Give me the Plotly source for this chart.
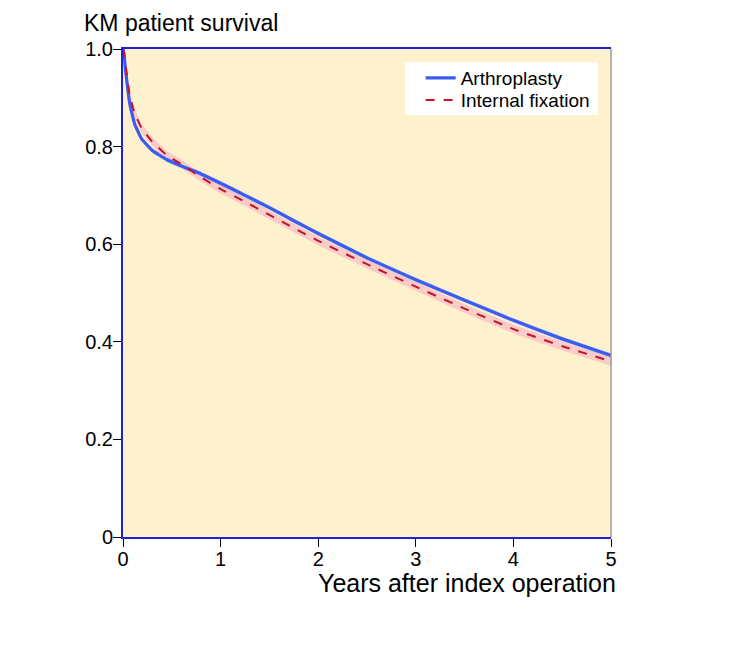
import plotly.graph_objects as go

years = [0, 0.01, 0.03, 0.07, 0.12, 0.19, 0.3, 0.45, 0.6, 0.8, 1.0, 1.25,
         1.5, 1.75, 2.0, 2.5, 3.0, 3.5, 4.0, 4.5, 5.0]
arthroplasty = [1.0, 0.99, 0.95, 0.887, 0.846, 0.816, 0.792, 0.773, 0.76, 0.744,
                0.725, 0.70, 0.675, 0.648, 0.622, 0.572, 0.527, 0.485, 0.444,
                0.406, 0.372]
internal_fixation = [1.0, 0.993, 0.962, 0.903, 0.868, 0.838, 0.81, 0.782, 0.764,
                     0.737, 0.713, 0.687, 0.66, 0.633, 0.607, 0.559, 0.513, 0.468,
                     0.426, 0.391, 0.36]
arth_ci = 0.005
fix_ci = 0.009

x_ticks = [0, 1, 2, 3, 4, 5]
y_ticks = [0, 0.2, 0.4, 0.6, 0.8, 1.0]
y_tick_labels = ["0", "0.2", "0.4", "0.6", "0.8", "1.0"]

FONT = "Liberation Sans, Arial, Helvetica, sans-serif"
AX_BLUE = "#1f1fd6"

fig = go.Figure()


def band(xs, ys, hw, color):
    up = [min(1.0, v + hw) for v in ys]
    lo = [v - hw for v in ys]
    fig.add_trace(go.Scatter(x=xs + xs[::-1], y=up + lo[::-1], fill="toself",
                             fillcolor=color, line=dict(width=0),
                             mode="lines", showlegend=False, hoverinfo="skip"))


band(years, internal_fixation, fix_ci, "rgba(245,150,190,0.4)")
band(years, arthroplasty, arth_ci, "rgba(120,150,255,0.3)")

fig.add_trace(go.Scatter(x=years, y=arthroplasty, mode="lines", name="Arthroplasty",
                         legend="legend",
                         line=dict(color="#3a5cf0", width=3.2, shape="spline", smoothing=0.3)))
fig.add_trace(go.Scatter(x=years, y=internal_fixation, mode="lines", name="Internal fixation",
                         legend="legend2",
                         line=dict(color="#c4122f", width=2, dash="dash", shape="spline", smoothing=0.3)))

legend_common = dict(xanchor="left", yanchor="top", bgcolor="rgba(0,0,0,0)",
                     borderwidth=0, font=dict(size=19), itemwidth=30)

fig.update_layout(
    width=729, height=652,
    margin=dict(l=115, r=126, t=41, b=123),
    paper_bgcolor="white",
    plot_bgcolor="#fef1cd",
    font=dict(family=FONT, color="black", size=18),
    showlegend=True,
    legend=dict(x=0.61, y=0.9795, **legend_common),
    legend2=dict(x=0.61, y=0.934, **legend_common),
    xaxis=dict(range=[0, 5], tickvals=x_ticks, showgrid=False, zeroline=False,
               showline=True, linecolor=AX_BLUE, linewidth=2, mirror=True,
               ticks="outside", ticklen=8, tickcolor="black", tickwidth=1,
               tickfont=dict(size=20), ticklabelstandoff=-5),
    yaxis=dict(range=[0, 1.0], tickvals=y_ticks, ticktext=y_tick_labels,
               showgrid=False, zeroline=False, showline=True, linecolor=AX_BLUE,
               linewidth=2, ticks="outside", ticklen=8, tickcolor="black",
               tickwidth=1, tickfont=dict(size=20), ticklabelstandoff=-4),
    shapes=[
        dict(type="line", xref="paper", yref="paper", x0=1, x1=1, y0=0, y1=1,
             line=dict(color="#9a9a9a", width=1.5)),
        dict(type="rect", xref="paper", yref="paper", x0=0.578, x1=0.973,
             y0=0.865, y1=0.973, fillcolor="white", line=dict(width=0),
             layer="above"),
    ],
    annotations=[
        dict(text="KM patient survival", xref="paper", yref="paper",
             x=-0.085, y=1.084, xanchor="left", yanchor="top", showarrow=False,
             font=dict(size=23)),
        dict(text="Years after index operation", xref="paper", yref="paper",
             x=1.014, y=-0.0943, xanchor="right", yanchor="middle", showarrow=False,
             font=dict(size=25)),
    ],
)

fig.write_html("out.html")
